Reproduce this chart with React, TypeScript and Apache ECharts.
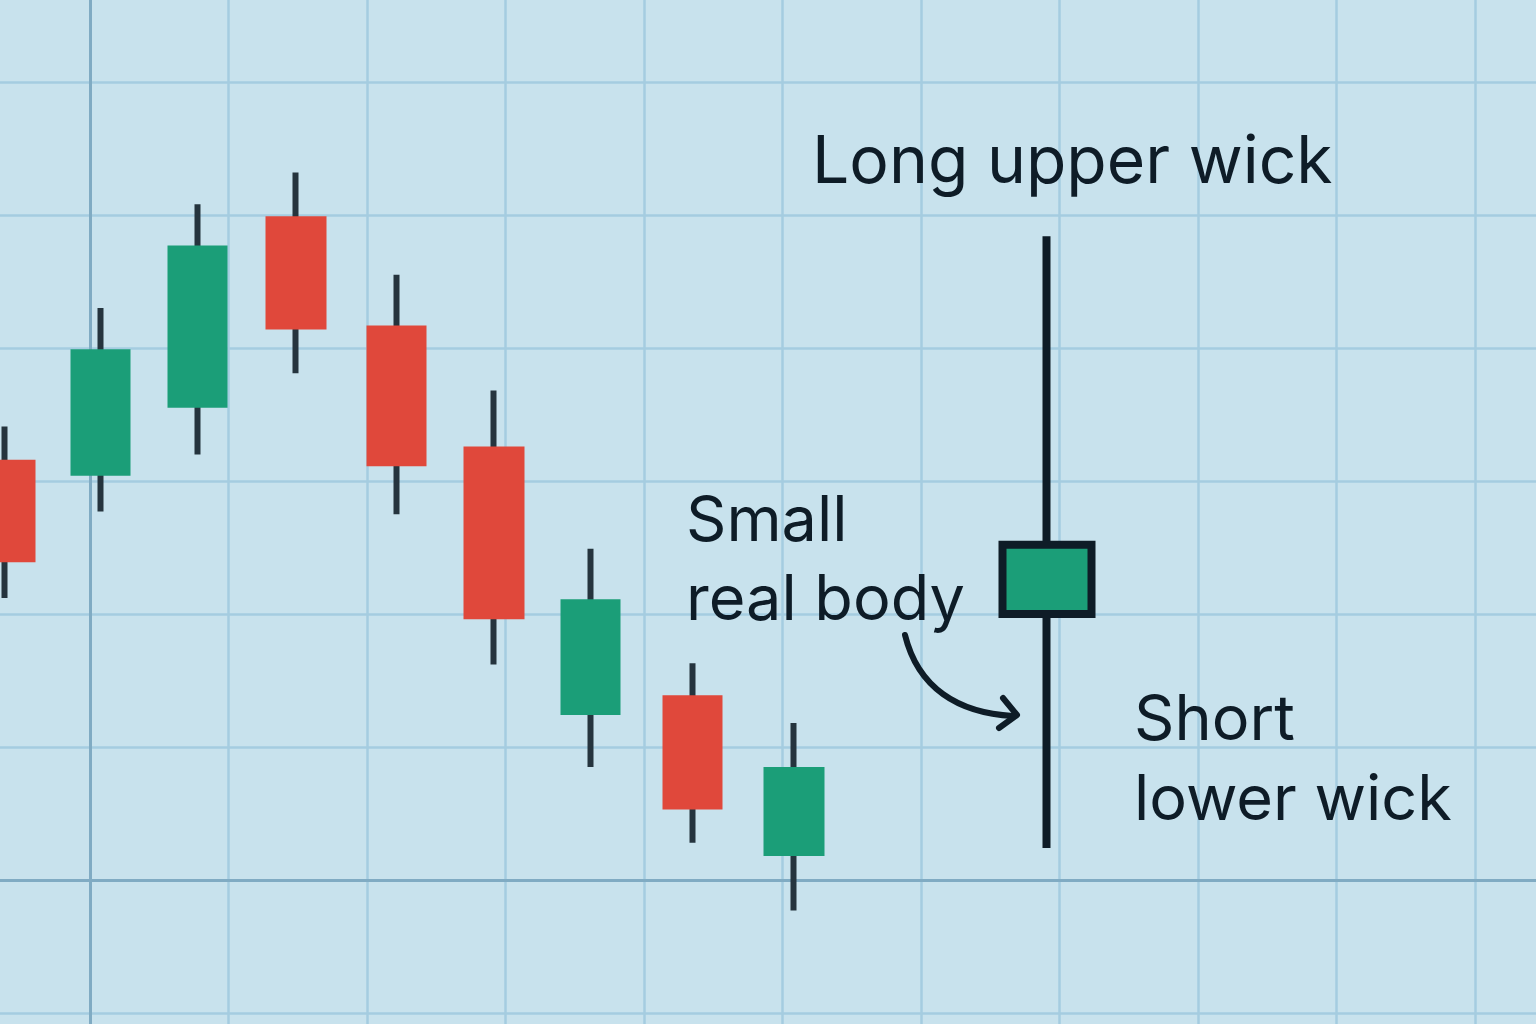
import React, { useEffect, useRef } from 'react';
import * as echarts from 'echarts';

type Candle = [number, number, number, number]; // open, close, low, high

// regular candles, left to right (price units on the hidden y axis)
const candleX = [0, 0.97, 1.95, 2.95, 3.97, 4.96, 5.94, 6.97, 8.0];
const candles: Candle[] = [
  [51.6, 43.9, 41.2, 54.1],
  [50.4, 59.9, 47.7, 63.0],
  [55.5, 67.7, 52.0, 70.8],
  [69.9, 61.4, 58.1, 73.2],
  [61.7, 51.1, 47.5, 65.5],
  [52.6, 39.6, 36.2, 56.8],
  [32.4, 41.1, 28.5, 44.9],
  [33.9, 25.3, 22.8, 36.3],
  [21.8, 28.5, 17.7, 31.8],
];

// the shooting-star-like candle on the right
const spotX = 10.57;
const spotCandle: Candle = [40.0, 45.2, 22.4, 68.4];

const BG = '#c8e2ed';
const GRID = '#a5cce0';
const AXIS = '#80abc3';
const GREEN = '#1b9e78';
const RED = '#e0483b';
const WICK = '#25343e';
const INK = '#0e1c27';
const FONT = 'Inter, "Noto Sans", sans-serif';

export default function App() {
  const ref = useRef<HTMLDivElement | null>(null);

  useEffect(() => {
    document.body.style.margin = '0';
    if (!ref.current) return;
    const chart = echarts.init(ref.current, undefined, { renderer: 'svg' });

    const rows = candles.map((c, i) => [candleX[i], ...c]);
    const hiddenAxis = { type: 'value', show: false, axisLine: { onZero: false } };

    chart.setOption({
      animation: false,
      backgroundColor: BG,
      // grid runs past the page on every side so the lines reach the edges
      grid: {
        left: -48.5,
        right: -77.5,
        top: -51,
        bottom: -122,
        containLabel: false,
        outerBoundsMode: 'none',
      },
      xAxis: [
        {
          type: 'value',
          min: -1,
          max: 11,
          interval: 1,
          axisLabel: { show: false },
          axisTick: { show: false },
          axisLine: { show: true, onZero: true, onZeroAxisIndex: 0, lineStyle: { color: AXIS, width: 3 } },
          splitLine: { show: true, lineStyle: { color: GRID, width: 2.5 } },
        },
        { ...hiddenAxis, min: -0.5426, max: 16.313 },
      ],
      yAxis: [
        {
          type: 'value',
          min: -2,
          max: 7,
          interval: 1,
          axisLabel: { show: false },
          axisTick: { show: false },
          axisLine: { show: true, onZero: true, onZeroAxisIndex: 0, lineStyle: { color: AXIS, width: 3 } },
          splitLine: { show: true, lineStyle: { color: GRID, width: 2.5 } },
        },
        { ...hiddenAxis, min: 0, max: 90 },
      ],
      series: [
        {
          // wicks only: a hairline body stroked dark
          type: 'candlestick',
          xAxisIndex: 1,
          yAxisIndex: 1,
          clip: false,
          barWidth: 1,
          silent: true,
          itemStyle: { color: WICK, color0: WICK, borderColor: WICK, borderColor0: WICK, borderWidth: 6 },
          data: rows,
        },
        {
          type: 'candlestick',
          xAxisIndex: 1,
          yAxisIndex: 1,
          clip: false,
          barWidth: 61,
          silent: true,
          itemStyle: { color: GREEN, color0: RED, borderColor: GREEN, borderColor0: RED, borderWidth: 0 },
          data: rows,
        },
        {
          type: 'candlestick',
          xAxisIndex: 1,
          yAxisIndex: 1,
          clip: false,
          barWidth: 90,
          silent: true,
          itemStyle: { color: GREEN, color0: GREEN, borderColor: INK, borderColor0: INK, borderWidth: 8 },
          data: [[spotX, ...spotCandle]],
        },
      ],
      graphic: [
        {
          type: 'text',
          left: 812,
          top: 126,
          z: 100,
          style: { text: 'Long upper wick', font: `400 66px ${FONT}`, fill: INK },
        },
        {
          type: 'text',
          left: 686,
          top: 478,
          z: 100,
          style: { text: 'Small\nreal body', font: `400 63px ${FONT}`, lineHeight: 79, fill: INK },
        },
        {
          type: 'text',
          left: 1134,
          top: 677,
          z: 100,
          style: { text: 'Short\nlower wick', font: `400 63px ${FONT}`, lineHeight: 80, fill: INK },
        },
        {
          type: 'bezierCurve',
          z: 100,
          shape: { x1: 905, y1: 635, cpx1: 918, cpy1: 688, cpx2: 958, cpy2: 713, x2: 1013, y2: 716 },
          style: { stroke: INK, lineWidth: 6, fill: null, lineCap: 'round' },
        },
        {
          type: 'polyline',
          z: 100,
          shape: { points: [[1003, 698], [1017, 715], [999, 728]] },
          style: { stroke: INK, lineWidth: 6, fill: null, lineCap: 'round', lineJoin: 'round' },
        },
      ],
    });

    return () => chart.dispose();
  }, []);

  return <div ref={ref} style={{ width: 1536, height: 1024 }} />;
}
